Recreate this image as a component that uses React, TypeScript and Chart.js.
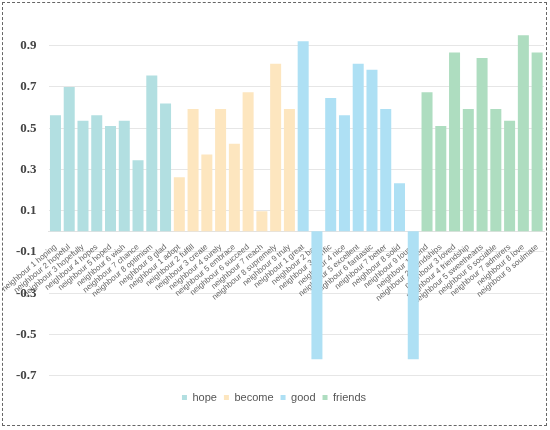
import React, { useEffect, useRef } from 'react';
import Chart from 'chart.js/auto';

// words per group, in order of neighbour rank
const hopeWords = ['hoping', 'hopeful', 'hopefully', 'hopes', 'hoped', 'wish', 'chance', 'optimism', 'glad'];
const becomeWords = ['adopt', 'fulfill', 'create', 'surely', 'embrace', 'succeed', 'reach', 'supremely', 'truly'];
const goodWords = ['great', 'bad', 'terrific', 'nice', 'excellent', 'fantastic', 'better', 'solid', 'lousy'];
const friendsWords = ['friend', 'friendships', 'loved', 'friendship', 'sweethearts', 'sociable', 'admirers', 'love', 'soulmate'];

// similarity values
const hopeValues = [0.563, 0.70, 0.536, 0.563, 0.51, 0.536, 0.344, 0.755, 0.619];
const becomeValues = [0.262, 0.593, 0.372, 0.593, 0.425, 0.674, 0.097, 0.812, 0.593];
const goodValues = [0.921, -0.62, 0.646, 0.563, 0.812, 0.783, 0.593, 0.233, -0.62];
const friendsValues = [0.674, 0.51, 0.867, 0.593, 0.84, 0.593, 0.536, 0.95, 0.867];

const seriesNames = ['hope', 'become', 'good', 'friends'];
const seriesColors = ['#b2dfe1', '#fde6bf', '#aee0f4', '#aeddc0'];

const yTicks = [0.9, 0.7, 0.5, 0.3, 0.1, -0.1, -0.3, -0.5, -0.7];

const groups = [
    { words: hopeWords, values: hopeValues },
    { words: becomeWords, values: becomeValues },
    { words: goodWords, values: goodValues },
    { words: friendsWords, values: friendsValues },
];

const label = (i: number, w: string) => `neighbour ${i + 1} ${w}`;
const categories = groups.flatMap(g => g.words.map((w, i) => label(i, w)));

const sans = 'Liberation Sans, Arial, sans-serif';

const App: React.FC = () => {
    const canvasRef = useRef<HTMLCanvasElement | null>(null);

    useEffect(() => {
        if (!canvasRef.current) return;
        const chart = new Chart(canvasRef.current, {
            type: 'bar',
            data: {
                labels: categories,
                datasets: groups.map((g, gi) => ({
                    label: seriesNames[gi],
                    data: g.words.map((w, i) => ({ x: label(i, w), y: g.values[i] })),
                    backgroundColor: seriesColors[gi],
                    grouped: false,
                    barPercentage: 0.8,
                    categoryPercentage: 1,
                })),
            },
            options: {
                animation: false,
                responsive: true,
                maintainAspectRatio: false,
                layout: { padding: { left: 1, right: 2, top: 22, bottom: 12 } },
                plugins: {
                    legend: {
                        position: 'bottom',
                        title: { display: true, text: '', font: { size: 1 }, padding: { top: 8, bottom: 0 } },
                        labels: {
                            boxWidth: 5,
                            boxHeight: 5,
                            color: '#555',
                            font: { family: sans, size: 11 },
                            padding: 7,
                        },
                    },
                    tooltip: { enabled: false },
                },
                scales: {
                    x: {
                        position: { y: 0 },
                        grid: { display: false },
                        border: { color: '#e2e2e2' },
                        afterFit: (scale) => {
                            // let the rotated labels run past the left edge like the original
                            scale.paddingLeft = 0;
                            scale.paddingRight = 0;
                        },
                        ticks: {
                            autoSkip: false,
                            minRotation: 40,
                            maxRotation: 40,
                            padding: 3,
                            color: '#666',
                            font: { family: sans, size: 8 },
                        },
                    },
                    y: {
                        min: -0.7,
                        max: 1.0,
                        afterBuildTicks: (scale) => {
                            scale.ticks = yTicks.map(v => ({ value: v }));
                        },
                        grid: { color: '#e6e6e6', drawTicks: false },
                        border: { display: false },
                        ticks: {
                            padding: 12,
                            color: '#444',
                            font: { family: 'Liberation Serif, Times New Roman, serif', size: 13, weight: 'bold' },
                            callback: (v) => Number(v).toFixed(1),
                        },
                    },
                },
            },
        });
        return () => chart.destroy();
    }, []);

    return (
        <div
            style={{
                position: 'absolute',
                left: 2,
                top: 2,
                width: 543,
                height: 422,
                border: '1px dashed #666',
            }}
        >
            <canvas ref={canvasRef}></canvas>
        </div>
    );
};

export default App;
